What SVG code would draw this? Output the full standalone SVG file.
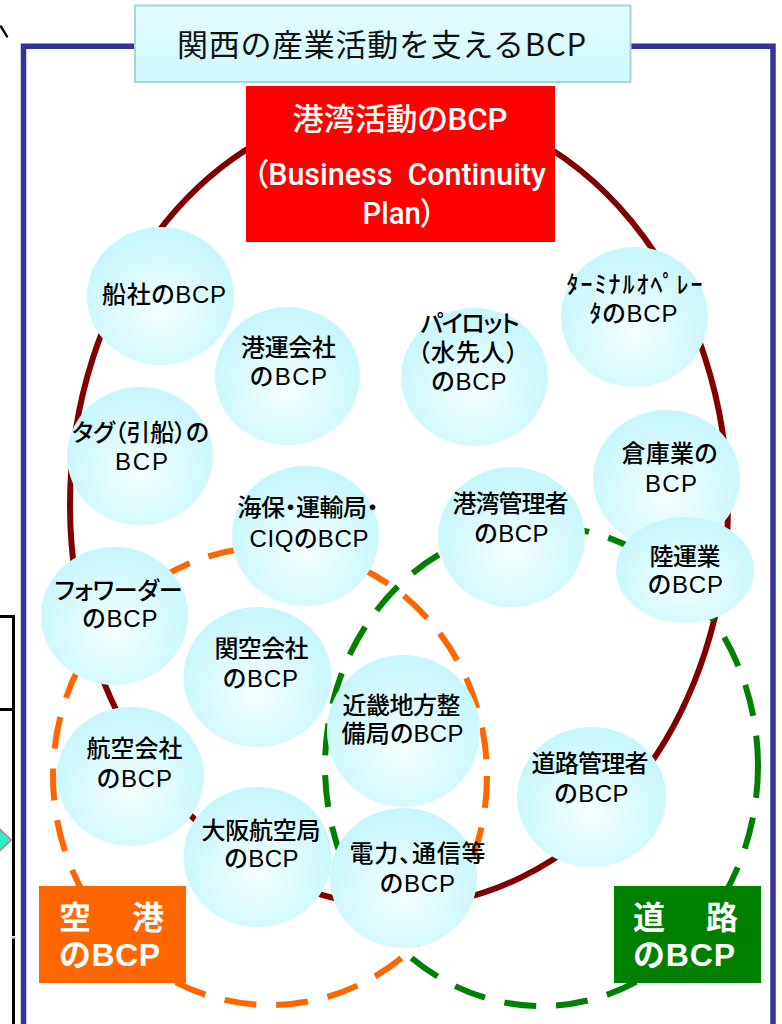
<svg xmlns="http://www.w3.org/2000/svg" width="782" height="1024" viewBox="0 0 782 1024">
<defs>
<radialGradient id="bub" cx="50%" cy="62%" r="55%">
<stop offset="0" stop-color="#f6ffff"/>
<stop offset="1" stop-color="#c8f7fb"/>
</radialGradient>
<linearGradient id="tg" x1="0" y1="0" x2="0" y2="1">
<stop offset="0" stop-color="#e4fcfe"/>
<stop offset="1" stop-color="#cdf9fc"/>
</linearGradient>
</defs>
<style>
.b{fill:url(#bub)}
.t{font-family:"Liberation Sans","Noto Sans CJK JP",sans-serif;font-size:24px;font-weight:500;fill:#000;text-anchor:middle;font-feature-settings:"palt"}
.w{font-family:Roboto,"Noto Sans CJK JP",sans-serif;font-size:31px;font-weight:500;fill:#fff;text-anchor:middle;font-feature-settings:"palt"}
.lb{font-family:"Liberation Sans","Noto Sans CJK JP",sans-serif;font-size:32px;font-weight:bold;fill:#fff}
.dash{fill:none;stroke-width:6;stroke-dasharray:32 20}
</style>
<rect width="782" height="1024" fill="#fff"/>
<g id="edge-fragments">
<path d="M1,26.5 L7,36.5" stroke="#000" stroke-width="2.4" stroke-linecap="round" fill="none"/>
<path d="M0,616.5 H13.5 V936 M13.5,938.5 V1024 M0,709.5 H13.5" stroke="#000" stroke-width="3" fill="none"/>
<path d="M11.5,937.3 H16" stroke="#bbb" stroke-width="1.2"/>
<path d="M-4,826 L11,840 L-4,854 Z" fill="#2ef0c8" stroke="#9a9a9a" stroke-width="2"/>
</g>
<g id="frame">
<path d="M23.5,1030 V46.3 H773 V1030" fill="none" stroke="#333399" stroke-width="5.5"/>
</g>
<g id="title">
<rect x="135" y="5.5" width="495.5" height="76.5" fill="url(#tg)" stroke="#a9d3d8" stroke-width="2"/>
<text x="381.5" y="55.5" font-family="'Noto Sans CJK JP',sans-serif" font-size="31" fill="#111" text-anchor="middle" textLength="409" lengthAdjust="spacing">関西の産業活動を支えるBCP</text>
</g>
<g id="boundaries">
<ellipse cx="399" cy="505" rx="329" ry="401" fill="none" stroke="#800000" stroke-width="6"/>
<ellipse class="dash" cx="270" cy="776" rx="217" ry="229" stroke="#ff6600"/>
<ellipse class="dash" cx="541.5" cy="766" rx="216.5" ry="240" stroke="#008000"/>
</g>
<g id="port-bcp">
<rect x="246" y="86" width="309" height="156" fill="#ff0000"/>
<text class="w" x="400" y="129.5" font-size="32" textLength="215" lengthAdjust="spacingAndGlyphs">港湾活動のBCP</text>
<text class="w" x="399.5" y="185" textLength="293" lengthAdjust="spacingAndGlyphs" xml:space="preserve">（Business  Continuity</text>
<text class="w" x="399" y="224" textLength="73" lengthAdjust="spacingAndGlyphs">Plan）</text>
</g>
<g id="n-shipping"><ellipse class="b" cx="160.5" cy="296" rx="73.5" ry="69"/>
<text class="t" x="164" y="303" textLength="124">船社のBCP</text></g>
<g id="n-stevedore"><ellipse class="b" cx="287.5" cy="376" rx="72.5" ry="69"/>
<text class="t" x="288.5" y="356" textLength="95">港運会社</text>
<text class="t" x="288.5" y="385" textLength="77">のBCP</text></g>
<g id="n-tug"><ellipse class="b" cx="140" cy="456" rx="73" ry="69"/>
<text class="t" x="140.5" y="441" textLength="137">タグ（引船）の</text>
<text class="t" x="141.5" y="470" textLength="53">BCP</text></g>
<g id="n-pilot"><ellipse class="b" cx="474.5" cy="377" rx="73.5" ry="69"/>
<text class="t" x="470" y="332" textLength="99">パイロット</text>
<text class="t" x="468" y="361" textLength="100">（水先人）</text>
<text class="t" x="469" y="390" textLength="75">のBCP</text></g>
<g id="n-terminal"><ellipse class="b" cx="634.5" cy="317" rx="73.5" ry="70"/>
<text class="t" x="634.5" y="293" textLength="136">ﾀｰﾐﾅﾙｵﾍﾟﾚｰ</text>
<text class="t" x="633.5" y="322" textLength="88">ﾀのBCP</text></g>
<g id="n-warehouse"><ellipse class="b" cx="666.5" cy="479" rx="73.5" ry="69"/>
<text class="t" x="669.5" y="462" textLength="96">倉庫業の</text>
<text class="t" x="671" y="492" textLength="52">BCP</text></g>
<g id="n-landtransport"><ellipse class="b" cx="685" cy="570" rx="69" ry="53"/>
<text class="t" x="685" y="565" textLength="71">陸運業</text>
<text class="t" x="685.5" y="593" textLength="75">のBCP</text></g>
<g id="n-portauthority"><ellipse class="b" cx="511.5" cy="537" rx="73.5" ry="70"/>
<text class="t" x="510.5" y="512" textLength="116">港湾管理者</text>
<text class="t" x="511.5" y="542" textLength="74">のBCP</text></g>
<g id="n-ciq"><ellipse class="b" cx="305.5" cy="536" rx="73.5" ry="70"/>
<text class="t" x="308" y="516" textLength="141">海保・運輸局・</text>
<text class="t" x="309" y="547" textLength="119">CIQのBCP</text></g>
<g id="n-forwarder"><ellipse class="b" cx="114.5" cy="616" rx="73.5" ry="69"/>
<text class="t" x="118.5" y="599" textLength="128">フォワーダー</text>
<text class="t" x="120" y="627" textLength="75">のBCP</text></g>
<g id="n-kix"><ellipse class="b" cx="257.5" cy="677" rx="74" ry="70"/>
<text class="t" x="261.5" y="657" textLength="94">関空会社</text>
<text class="t" x="260.5" y="687" textLength="75">のBCP</text></g>
<g id="n-kinki"><ellipse class="b" cx="403.5" cy="731" rx="76.5" ry="76"/>
<text class="t" x="401.5" y="714" textLength="118">近畿地方整</text>
<text class="t" x="402.5" y="742" textLength="122">備局のBCP</text></g>
<g id="n-airline"><ellipse class="b" cx="130.5" cy="776.5" rx="73.5" ry="69.5"/>
<text class="t" x="134.5" y="757" textLength="96">航空会社</text>
<text class="t" x="134.5" y="787" textLength="75">のBCP</text></g>
<g id="n-osaka-aviation"><ellipse class="b" cx="257.5" cy="857" rx="74" ry="70"/>
<text class="t" x="261" y="839" textLength="119">大阪航空局</text>
<text class="t" x="261.5" y="867" textLength="74">のBCP</text></g>
<g id="n-road-admin"><ellipse class="b" cx="591.5" cy="797" rx="74.5" ry="70"/>
<text class="t" x="590" y="772" textLength="117">道路管理者</text>
<text class="t" x="591.5" y="802" textLength="74">のBCP</text></g>
<g id="n-utilities"><ellipse class="b" cx="403.5" cy="878" rx="73.5" ry="70"/>
<text class="t" x="417.5" y="862" textLength="136">電力、通信等</text>
<text class="t" x="417.5" y="892" textLength="75">のBCP</text></g>
<g id="airport-bcp">
<rect x="39" y="886" width="147" height="97" fill="#ff6600"/>
<text class="lb" x="59" y="929" textLength="105" lengthAdjust="spacing">空　港</text>
<text class="lb" x="59" y="966" textLength="101">のBCP</text>
</g>
<g id="road-bcp">
<rect x="614" y="886" width="147" height="97" fill="#008000"/>
<text class="lb" x="633" y="929" textLength="105" lengthAdjust="spacing">道　路</text>
<text class="lb" x="633" y="966" textLength="102">のBCP</text>
</g>
</svg>
